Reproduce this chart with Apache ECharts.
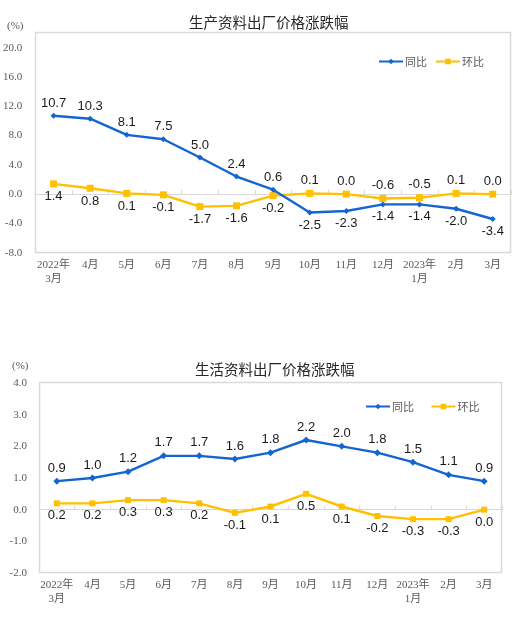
<!DOCTYPE html>
<html>
<head>
<meta charset="utf-8">
<script src="https://cdn.jsdelivr.net/npm/echarts@6/dist/echarts.min.js"></script>
<style>
    html, body { margin: 0; padding: 0; background: #fff; }
    #chart { width: 519px; height: 617px; }
</style>
</head>
<body>
<div id="chart"></div>
<script>
var months = ['2022年\n3月', '4月', '5月', '6月', '7月', '8月', '9月', '10月', '11月', '12月', '2023年\n1月', '2月', '3月'];

// 生产资料
var prodYoY = [10.7, 10.3, 8.1, 7.5, 5.0, 2.4, 0.6, -2.5, -2.3, -1.4, -1.4, -2.0, -3.4];
var prodMoM = [1.4, 0.8, 0.1, -0.1, -1.7, -1.6, -0.2, 0.1, 0.0, -0.6, -0.5, 0.1, 0.0];

// 生活资料
var lifeYoY = [0.9, 1.0, 1.2, 1.7, 1.7, 1.6, 1.8, 2.2, 2.0, 1.8, 1.5, 1.1, 0.9];
var lifeMoM = [0.2, 0.2, 0.3, 0.3, 0.2, -0.1, 0.1, 0.5, 0.1, -0.2, -0.3, -0.3, 0.0];

var blue = '#1565D0';
var yellow = '#FFC000';
var gray = '#595959';
var serif = "'Liberation Serif', 'Noto Sans CJK SC', serif";
var sans = "'Liberation Sans', Arial, sans-serif";

// label above before split index, below after it (or reversed)
function buildData(values, split, firstPos, secondPos) {
    var result = [];
    for (var i = 0; i < values.length; i++) {
        result.push({
            value: values[i],
            label: { position: i < split ? firstPos : secondPos }
        });
    }
    return result;
}

function lineSeries(name, data, color, symbol, size, xIndex, yIndex) {
    return {
        name: name,
        type: 'line',
        xAxisIndex: xIndex,
        yAxisIndex: yIndex,
        data: data,
        color: color,
        symbol: symbol,
        symbolSize: size,
        lineStyle: { width: 2.4, color: color },
        itemStyle: { color: color },
        label: {
            show: true,
            distance: 3,
            fontSize: 13,
            fontFamily: sans,
            color: '#1a1a1a',
            formatter: function (p) { return p.value.toFixed(1); }
        },
        z: symbol === 'rect' ? 2 : 3
    };
}

function labelAxis(gridIndex) {
    return {
        type: 'category',
        gridIndex: gridIndex,
        data: months,
        boundaryGap: true,
        axisLine: { show: false, onZero: false },
        axisTick: { show: false },
        axisLabel: {
            interval: 0,
            fontSize: 11,
            lineHeight: 14,
            fontFamily: serif,
            color: gray,
            margin: 5
        }
    };
}

function zeroAxis(gridIndex) {
    return {
        type: 'category',
        gridIndex: gridIndex,
        data: months,
        boundaryGap: true,
        position: 'bottom',
        axisLine: { show: true, onZero: true, lineStyle: { color: '#d9d9d9', width: 1 } },
        axisTick: { show: true, inside: true, length: 4, interval: 0, lineStyle: { color: '#d9d9d9' } },
        axisLabel: { show: false }
    };
}

function valueAxis(gridIndex, min, max, interval, margin) {
    return {
        type: 'value',
        gridIndex: gridIndex,
        min: min,
        max: max,
        interval: interval,
        axisLine: { show: false },
        axisTick: { show: false },
        splitLine: { show: false },
        axisLabel: {
            fontSize: 11,
            fontFamily: serif,
            color: gray,
            margin: margin,
            formatter: function (v) { return v.toFixed(1); }
        }
    };
}

var chartDom = document.getElementById('chart');
var myChart = echarts.init(chartDom, null, { renderer: 'canvas' });
var option;

option = {
    animation: false,
    backgroundColor: '#fff',
    title: [{
        text: '生产资料出厂价格涨跌幅',
        left: 184,
        top: 10,
        textStyle: { fontSize: 14.5, fontWeight: 'normal', color: '#262626', fontFamily: "'Noto Sans CJK SC', sans-serif" }
    }, {
        text: '生活资料出厂价格涨跌幅',
        left: 190,
        top: 357,
        textStyle: { fontSize: 14.5, fontWeight: 'normal', color: '#262626', fontFamily: "'Noto Sans CJK SC', sans-serif" }
    }],
    legend: [{
        left: 373,
        top: 51,
        itemWidth: 24,
        itemHeight: 7,
        itemGap: 8,
        textStyle: { fontSize: 11, color: gray, fontFamily: "'Noto Sans CJK SC', sans-serif", padding: [0, 0, 0, -3] },
        data: ['同比', '环比']
    }, {
        left: 360,
        top: 396,
        itemWidth: 24,
        itemHeight: 7,
        itemGap: 14,
        textStyle: { fontSize: 11, color: gray, fontFamily: "'Noto Sans CJK SC', sans-serif", padding: [0, 0, 0, -3] },
        data: ['同比 ', '环比 ']
    }],
    graphic: [
        { type: 'rect', shape: { x: 35.5, y: 32.5, width: 475, height: 220 }, style: { fill: 'none', stroke: '#d9d9d9', lineWidth: 1.5 }, silent: true },
        { type: 'rect', shape: { x: 39.5, y: 382.5, width: 462, height: 190 }, style: { fill: 'none', stroke: '#d9d9d9', lineWidth: 1.5 }, silent: true },
        { type: 'text', left: 7, top: 21, style: { text: '(%)', fontSize: 11, fontFamily: serif, fill: gray } },
        { type: 'text', left: 12, top: 361, style: { text: '(%)', fontSize: 11, fontFamily: serif, fill: gray } }
    ],
    grid: [
        { left: 35, top: 47.7, width: 476, height: 205 },
        { left: 39, top: 383, width: 463, height: 190 }
    ],
    xAxis: [labelAxis(0), zeroAxis(0), labelAxis(1), zeroAxis(1)],
    yAxis: [valueAxis(0, -8, 20, 4, 13), valueAxis(1, -2, 4, 1, 12)],
    series: [
        lineSeries('同比', buildData(prodYoY, 7, 'top', 'bottom'), blue, 'diamond', 6, 0, 0),
        lineSeries('环比', buildData(prodMoM, 7, 'bottom', 'top'), yellow, 'rect', 7, 0, 0),
        lineSeries('同比 ', buildData(lifeYoY, 13, 'top', 'top'), blue, 'diamond', 7, 2, 1),
        lineSeries('环比 ', buildData(lifeMoM, 13, 'bottom', 'bottom'), yellow, 'rect', 6, 2, 1)
    ]
};

myChart.setOption(option);
</script>
</body>
</html>
